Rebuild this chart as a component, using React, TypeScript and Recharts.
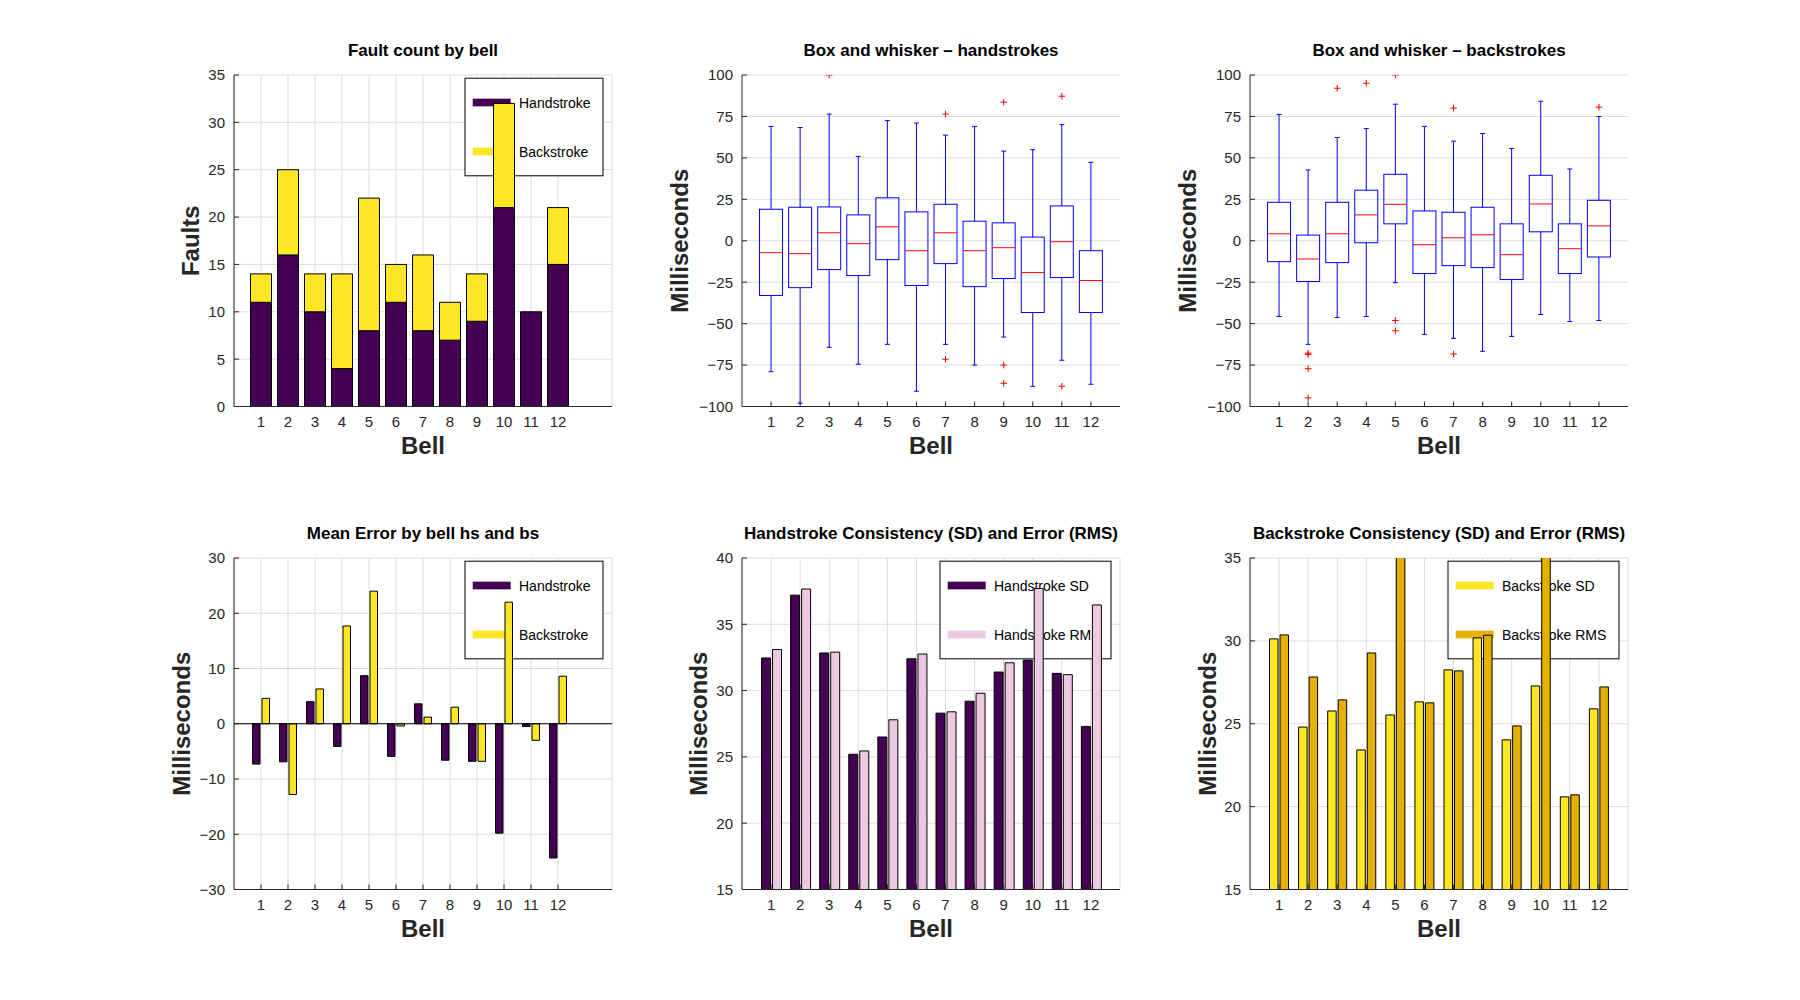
import React from 'react';
import { ComposedChart, Bar, Scatter, XAxis, YAxis, CartesianGrid, ReferenceLine } from 'recharts';

// ---- data ----
const bells = [1, 2, 3, 4, 5, 6, 7, 8, 9, 10, 11, 12];

const hsFaults = [11, 16, 10, 4, 8, 11, 8, 7, 9, 21, 10, 15];
const bsFaults = [3, 9, 4, 10, 14, 4, 8, 4, 5, 11, 0, 6];

// handstroke box stats
const hsHi = [69, 68.3, 76.4, 50.9, 72.5, 71, 63.7, 69, 54.1, 54.9, 70.1, 47.3];
const hsQ3 = [19.0, 20.2, 20.4, 15.6, 25.9, 17.4, 22, 11.8, 10.8, 2.2, 21, -6];
const hsMed = [-7.2, -7.8, 4.8, -1.8, 8.4, -6, 4.8, -6, -4.2, -19.2, -0.6, -24];
const hsQ1 = [-33, -28.3, -17.4, -21, -11.4, -27, -13.8, -27.7, -22.8, -43.3, -22.2, -43.3];
const hsLo = [-79, -98, -64.3, -74.5, -62.5, -90.8, -62.5, -75, -58.1, -87.8, -72.1, -86.6];
const hsOutBell = [3, 7, 7, 9, 9, 9, 11, 11];
const hsOutVal = [100, 76.4, -71.5, 83.6, -75, -86, 87.2, -87.8];

// backstroke box stats
const bsHi = [76.2, 42.7, 62.3, 67.7, 82.4, 69, 60.1, 64.7, 55.7, 84.2, 43.3, 75];
const bsQ3 = [23.2, 3.4, 23.2, 30.5, 40.1, 18, 17.2, 20.2, 10.2, 39.5, 10.2, 24.4];
const bsMed = [4.2, -11, 4.2, 15.6, 22, -2.4, 1.8, 3.6, -8.4, 22.2, -4.8, 9];
const bsQ1 = [-12.6, -24.6, -13.2, -1.2, 10.2, -19.8, -15, -16.2, -23.4, 5.4, -19.8, -9.8];
const bsLo = [-45.7, -62.5, -46.3, -45.7, -25.3, -56.5, -58.9, -66.7, -57.7, -44.5, -48.7, -48.1];
const bsOutBell = [2, 2, 2, 2, 3, 4, 5, 5, 5, 7, 7, 12];
const bsOutVal = [-67.8, -68.6, -77.2, -94.8, 92, 95, 100, -48.1, -54.3, 80, -68.3, 80.6];

const hsMean = [-7.3, -6.9, 4.0, -4.1, 8.7, -5.9, 3.6, -6.6, -6.8, -19.8, -0.5, -24.3];
const bsMean = [4.6, -12.8, 6.3, 17.7, 24.0, -0.4, 1.2, 3.0, -6.8, 22.0, -3.0, 8.6];

const hsSD = [32.46, 37.2, 32.84, 25.2, 26.5, 32.4, 28.3, 29.2, 31.4, 32.3, 31.3, 27.3];
const hsRMS = [33.1, 37.66, 32.9, 25.45, 27.8, 32.76, 28.4, 29.8, 32.1, 37.7, 31.2, 36.46];
const bsSD = [30.12, 24.8, 25.77, 23.42, 25.53, 26.32, 28.25, 30.18, 24.03, 27.28, 20.59, 25.9];
const bsRMS = [30.36, 27.82, 26.44, 29.27, 35.2, 26.26, 28.19, 30.34, 24.87, 35.1, 20.71, 27.22];

const faultTicks = [0, 5, 10, 15, 20, 25, 30, 35];
const boxTicks = [-100, -75, -50, -25, 0, 25, 50, 75, 100];
const meanTicks = [-30, -20, -10, 0, 10, 20, 30];
const hsSdTicks = [15, 20, 25, 30, 35, 40];
const bsSdTicks = [15, 20, 25, 30, 35];

// ---- rows for the charts ----
const faultRows = bells.map((bell, i) => ({ bell, hs: hsFaults[i], bs: bsFaults[i] }));
const hsBoxRows = bells.map((bell, i) => ({ bell, lo: hsLo[i], q1: hsQ1[i], med: hsMed[i], q3: hsQ3[i], hi: hsHi[i] }));
const bsBoxRows = bells.map((bell, i) => ({ bell, lo: bsLo[i], q1: bsQ1[i], med: bsMed[i], q3: bsQ3[i], hi: bsHi[i] }));
const hsOutRows = hsOutBell.map((bell, i) => ({ bell, v: hsOutVal[i] }));
const bsOutRows = bsOutBell.map((bell, i) => ({ bell, v: bsOutVal[i] }));
const meanRows = bells.map((bell, i) => ({ bell, hs: hsMean[i], bs: bsMean[i] }));
const hsSdRows = bells.map((bell, i) => ({ bell, sd: hsSD[i], rms: hsRMS[i] }));
const bsSdRows = bells.map((bell, i) => ({ bell, sd: bsSD[i], rms: bsRMS[i] }));

// ---- look ----
const PURPLE = '#440154';
const YELLOW = '#fde725';
const PINK = '#ecc9e0';
const GOLD = '#e6b000';
const AX = '#262626';
const GRID = '#dcdcdc';
const FONT = '"Liberation Sans", Arial, Helvetica, sans-serif';

const PW = 378;
const PH = 331.5;
const ML = 110;
const MT = 50;
const MR = 20;
const MB = 70;
const YW = 60;
const XH = 30;
const CW = PW + ML + MR;
const CH = PH + MT + MB;

const COLS = [234.3, 742.3, 1250.3];
const ROWS = [75.3, 558.3];

const fmt = (v: number) => (v < 0 ? `\u2212${-v}` : `${v}`);

const BottomTick = (props: any) => {
  const { x, y, payload } = props;
  return (
    <g>
      <line x1={x} y1={y} x2={x} y2={y - 5} stroke={AX} />
      <text x={x} y={y + 20.7} textAnchor="middle" fontSize={15} fill={AX} fontFamily={FONT}>
        {payload.value}
      </text>
    </g>
  );
};

const LeftTick = (props: any) => {
  const { x, y, payload } = props;
  return (
    <g>
      <line x1={x} y1={y} x2={x + 5} y2={y} stroke={AX} />
      <text x={x - 9} y={y} dy="0.36em" textAnchor="end" fontSize={15} fill={AX} fontFamily={FONT}>
        {fmt(payload.value)}
      </text>
    </g>
  );
};

const NoLabel = () => <g />;

const BoxShape = (props: any) => {
  const { x, y, width, height, payload } = props;
  const { lo, q1, med, q3, hi } = payload;
  const py = (v: number) => y + ((hi - v) / (hi - lo)) * height;
  const cx = x + width / 2;
  const cap = 2.5;
  return (
    <g>
      <line x1={cx} y1={py(hi)} x2={cx} y2={py(q3)} stroke="#0000ff" />
      <line x1={cx - cap} y1={py(hi)} x2={cx + cap} y2={py(hi)} stroke="#0000ff" />
      <line x1={cx} y1={py(q1)} x2={cx} y2={py(lo)} stroke="#0000ff" />
      <line x1={cx - cap} y1={py(lo)} x2={cx + cap} y2={py(lo)} stroke="#0000ff" />
      <rect x={x} y={py(q3)} width={width} height={py(q1) - py(q3)} fill="none" stroke="#0000ff" />
      <line x1={x} y1={py(med)} x2={x + width} y2={py(med)} stroke="#ff0000" />
    </g>
  );
};

const Plus = (props: any) => {
  const { cx, cy } = props;
  const s = 3.3;
  return <path d={`M${cx - s},${cy}H${cx + s}M${cx},${cy - s}V${cy + s}`} stroke="#ff0000" fill="none" />;
};

type LegendItem = { name: string; color: string };

function PanelLegend({ items, width }: { items: LegendItem[]; width: number }) {
  const lx = ML + PW - 9 - width;
  const ly = MT + 3.2;
  return (
    <g>
      <rect x={lx} y={ly} width={width} height={97.6} fill="#fff" stroke="#000" />
      {items.map((it, i) => {
        const cy = ly + 24.3 + i * 49;
        return (
          <g key={it.name}>
            <rect x={lx + 7.7} y={cy - 3.85} width={38} height={7.7} fill={it.color} />
            <text x={lx + 54} y={cy} dy="0.36em" fontSize={14} fill="#000" fontFamily={FONT}>
              {it.name}
            </text>
          </g>
        );
      })}
    </g>
  );
}

type PanelProps = {
  col: number;
  row: number;
  data: any[];
  xMax: number;
  yDomain: [number, number];
  yTicks: number[];
  title: string;
  yLabel: string;
  yLabelOff: number;
  legend?: LegendItem[];
  legendWidth?: number;
  vGrid?: boolean;
  barGap?: number;
  children?: React.ReactNode;
};

function Panel(p: PanelProps) {
  return (
    <div style={{ position: 'absolute', left: COLS[p.col] - ML, top: ROWS[p.row] - MT, width: CW, height: CH }}>
      <ComposedChart
        width={CW}
        height={CH}
        data={p.data}
        barGap={p.barGap ?? 2}
        margin={{ top: MT, right: MR, bottom: MB - XH, left: ML - YW }}
      >
        <CartesianGrid stroke={GRID} vertical={p.vGrid !== false} />
        {p.legend && <PanelLegend items={p.legend} width={p.legendWidth ?? 138} />}
        {p.children}
        <XAxis
          dataKey="bell"
          type="number"
          domain={[0, p.xMax]}
          ticks={bells}
          interval={0}
          height={XH}
          tickSize={0}
          tickMargin={0}
          tickLine={false}
          axisLine={{ stroke: AX }}
          tick={<BottomTick />}
        />
        <XAxis
          xAxisId="top"
          orientation="top"
          mirror
          dataKey="bell"
          type="number"
          domain={[0, p.xMax]}
          ticks={bells}
          interval={0}
          height={0}
          tickSize={5}
          tickLine={{ stroke: AX }}
          axisLine={{ stroke: AX }}
          tick={NoLabel}
        />
        <YAxis
          width={YW}
          type="number"
          domain={p.yDomain}
          ticks={p.yTicks}
          interval={0}
          allowDataOverflow
          tickSize={0}
          tickMargin={0}
          tickLine={false}
          axisLine={{ stroke: AX }}
          tick={<LeftTick />}
        />
        <YAxis
          yAxisId="right"
          orientation="right"
          mirror
          width={0}
          type="number"
          domain={p.yDomain}
          ticks={p.yTicks}
          interval={0}
          allowDataOverflow
          tickSize={5}
          tickLine={{ stroke: AX }}
          axisLine={{ stroke: AX }}
          tick={NoLabel}
        />
        <text x={ML + PW / 2} y={MT - 19.5} textAnchor="middle" fontWeight="bold" fontSize={17} fill="#000" fontFamily={FONT}>
          {p.title}
        </text>
        <text x={ML + PW / 2} y={MT + PH + 47} textAnchor="middle" fontWeight="bold" fontSize={24} fill={AX} fontFamily={FONT}>
          Bell
        </text>
        <text
          transform={`translate(${ML - p.yLabelOff},${MT + PH / 2}) rotate(-90)`}
          textAnchor="middle"
          fontWeight="bold"
          fontSize={24}
          fill={AX}
          fontFamily={FONT}
        >
          {p.yLabel}
        </text>
      </ComposedChart>
    </div>
  );
}

export default function App() {
  return (
    <div style={{ position: 'absolute', left: 0, top: 0, width: 1800, height: 1000, background: '#fff', fontFamily: FONT }}>
      <Panel
        col={0}
        row={0}
        data={faultRows}
        xMax={14}
        yDomain={[0, 35]}
        yTicks={faultTicks}
        title="Fault count by bell"
        yLabel="Faults"
        yLabelOff={35}
        legend={[
          { name: 'Handstroke', color: PURPLE },
          { name: 'Backstroke', color: YELLOW },
        ]}
      >
        <Bar dataKey="hs" stackId="f" barSize={21} fill={PURPLE} stroke="#000" isAnimationActive={false} />
        <Bar dataKey="bs" stackId="f" barSize={21} fill={YELLOW} stroke="#000" isAnimationActive={false} />
      </Panel>

      <Panel
        col={1}
        row={0}
        data={hsBoxRows}
        xMax={13}
        yDomain={[-100, 100]}
        yTicks={boxTicks}
        title={'Box and whisker \u2013 handstrokes'}
        yLabel="Milliseconds"
        yLabelOff={54}
        vGrid={false}
      >
        <Bar dataKey={(d: any) => [d.lo, d.hi]} barSize={23} shape={<BoxShape />} isAnimationActive={false} />
        <Scatter data={hsOutRows} dataKey="v" xAxisId="top" shape={<Plus />} isAnimationActive={false} />
      </Panel>

      <Panel
        col={2}
        row={0}
        data={bsBoxRows}
        xMax={13}
        yDomain={[-100, 100]}
        yTicks={boxTicks}
        title={'Box and whisker \u2013 backstrokes'}
        yLabel="Milliseconds"
        yLabelOff={54}
        vGrid={false}
      >
        <Bar dataKey={(d: any) => [d.lo, d.hi]} barSize={23} shape={<BoxShape />} isAnimationActive={false} />
        <Scatter data={bsOutRows} dataKey="v" xAxisId="top" shape={<Plus />} isAnimationActive={false} />
      </Panel>

      <Panel
        col={0}
        row={1}
        data={meanRows}
        xMax={14}
        yDomain={[-30, 30]}
        yTicks={meanTicks}
        title="Mean Error by bell hs and bs"
        yLabel="Milliseconds"
        yLabelOff={44}
        legend={[
          { name: 'Handstroke', color: PURPLE },
          { name: 'Backstroke', color: YELLOW },
        ]}
      >
        <ReferenceLine y={0} stroke="#000" />
        <Bar dataKey="hs" barSize={7.5} fill={PURPLE} stroke="#000" isAnimationActive={false} />
        <Bar dataKey="bs" barSize={7.5} fill={YELLOW} stroke="#000" isAnimationActive={false} />
      </Panel>

      <Panel
        col={1}
        row={1}
        data={hsSdRows}
        xMax={13}
        yDomain={[15, 40]}
        yTicks={hsSdTicks}
        title="Handstroke Consistency (SD) and Error (RMS)"
        yLabel="Milliseconds"
        yLabelOff={35.5}
        legendWidth={171}
        legend={[
          { name: 'Handstroke SD', color: PURPLE },
          { name: 'Handstroke RMS', color: PINK },
        ]}
      >
        <Bar dataKey="sd" barSize={9} fill={PURPLE} stroke="#000" isAnimationActive={false} />
        <Bar dataKey="rms" barSize={9} fill={PINK} stroke="#000" isAnimationActive={false} />
      </Panel>

      <Panel
        col={2}
        row={1}
        data={bsSdRows}
        xMax={13}
        yDomain={[15, 35]}
        yTicks={bsSdTicks}
        title="Backstroke Consistency (SD) and Error (RMS)"
        yLabel="Milliseconds"
        yLabelOff={34.5}
        legendWidth={171}
        legend={[
          { name: 'Backstroke SD', color: YELLOW },
          { name: 'Backstroke RMS', color: GOLD },
        ]}
      >
        <Bar dataKey="sd" barSize={8.5} fill={YELLOW} stroke="#000" isAnimationActive={false} />
        <Bar dataKey="rms" barSize={8.5} fill={GOLD} stroke="#000" isAnimationActive={false} />
      </Panel>
    </div>
  );
}
